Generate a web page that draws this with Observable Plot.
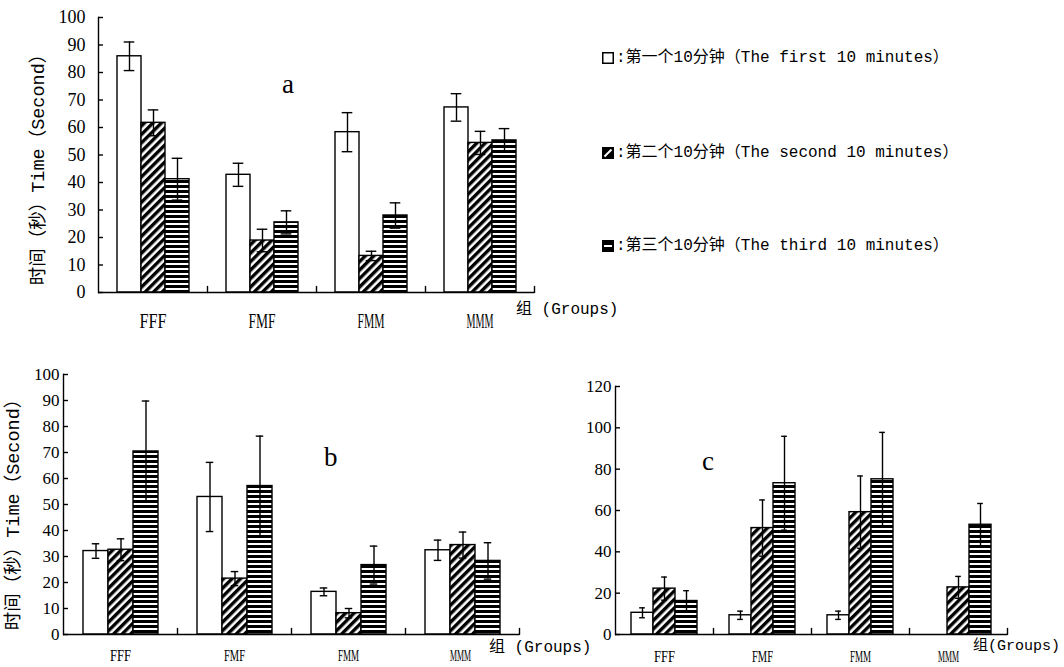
<!DOCTYPE html>
<html><head><meta charset="utf-8">
<script src="https://cdn.jsdelivr.net/npm/d3@7"></script>
<script src="https://cdn.jsdelivr.net/npm/@observablehq/plot@0.6"></script>
<style>
body{margin:0;background:#fff;}
#page{position:relative;width:1064px;height:667px;overflow:hidden;background:#fff;}
.abs{position:absolute;white-space:nowrap;color:#000;line-height:1;}
.mono{font-family:"Liberation Mono","Noto Sans CJK SC",monospace;}
.ytitle{font-size:18.5px;transform-origin:50% 50%;transform:translate(-50%,-50%) rotate(-90deg);}
.letter{font-family:"Liberation Serif",serif;font-size:27px;}
.leg{font-size:16px;display:flex;align-items:center;gap:2px;}
.panel{position:absolute;}
</style></head><body>
<div id="page">
<svg width="0" height="0" style="position:absolute">
  <defs>
    <pattern id="diag" patternUnits="userSpaceOnUse" width="6" height="6" patternTransform="rotate(45)">
      <rect width="6" height="6" fill="white"/><rect width="3.4" height="6" fill="black"/>
    </pattern>
    <pattern id="horiz" patternUnits="userSpaceOnUse" width="5" height="5">
      <rect width="5" height="5" fill="white"/><rect width="5" height="3" fill="black"/>
    </pattern>
  </defs>
</svg>
</div>
<script>
// ---- data ----
const groups = ["FFF", "FMF", "FMM", "MMM"];
const series = ["第一个10分钟", "第二个10分钟", "第三个10分钟"];
const seriesEn = ["The first 10 minutes", "The second 10 minutes", "The third 10 minutes"];
const seriesFill = ["white", "url(#diag)", "url(#horiz)"];

// panel a (rows: groups; cols: series)
const aMean = [[85.9, 61.7, 41.2], [42.8, 18.9, 25.5], [58.3, 13.3, 28.0], [67.3, 54.4, 55.3]];
const aErr  = [[5.2, 4.7, 7.6], [4.2, 4.1, 4.2], [7.1, 1.7, 4.6], [5.0, 4.2, 4.3]];
// panel b
const bMean = [[32.1, 32.6, 70.4], [52.9, 21.5, 57.1], [16.4, 8.2, 26.7], [32.4, 34.4, 28.3]];
const bErr  = [[2.8, 4.2, 19.4], [13.3, 2.7, 19.2], [1.5, 1.8, 7.3], [3.9, 5.0, 7.0]];
// panel c (MMM first 10 minutes: no bar)
const cMean = [[10.5, 22.2, 16.2], [9.3, 51.5, 73.2], [9.3, 59.2, 75.1], [null, 22.8, 53.1]];
const cErr  = [[2.4, 5.6, 5.0], [2.0, 13.6, 22.7], [2.0, 17.5, 22.7], [null, 5.3, 10.3]];

const ticksAB = [0, 10, 20, 30, 40, 50, 60, 70, 80, 90, 100];
const ticksC = [0, 20, 40, 60, 80, 100, 120];

const yTitle = "时间（秒）Time（Second）";
const groupsTitle = ["组 (Groups)", "组 (Groups)", "组(Groups)"];
const panelLetters = ["a", "b", "c"];

const page = document.getElementById("page");

function tidy(means, errs) {
  const out = [];
  groups.forEach((g, i) => series.forEach((s, j) => {
    if (means[i][j] != null) out.push({group: g, series: s, value: means[i][j], err: errs[i][j]});
  }));
  return out;
}

const tickShape = {draw(ctx, l) { ctx.moveTo(0, 0); ctx.lineTo(0, -l); }};

function panel(o) {
  const data = tidy(o.means, o.errs);
  const sw = 1.4;
  const inset = (o.barW - o.capW) / 2;
  const chart = Plot.plot({
    width: o.width, height: o.height,
    marginTop: o.mt, marginRight: o.mr, marginBottom: o.mb, marginLeft: o.ml,
    style: {fontFamily: "'Liberation Serif', serif", fontSize: "17px", color: "black", background: "transparent", overflow: "visible"},
    fx: {domain: groups, paddingInner: 0, paddingOuter: 0, label: null},
    x: {domain: series, paddingInner: 0, paddingOuter: o.pad, axis: null},
    y: {domain: [0, o.yMax]},
    color: {type: "ordinal", domain: series, range: seriesFill},
    marks: [
      Plot.barY(data, {fx: "group", x: "series", y: "value", fill: "series", stroke: "black", strokeWidth: sw}),
      Plot.ruleX(data, {fx: "group", x: "series", y1: d => d.value - d.err, y2: d => d.value + d.err, stroke: "black", strokeWidth: sw}),
      Plot.tickY(data, {fx: "group", x: "series", y: d => d.value + d.err, insetLeft: inset, insetRight: inset, stroke: "black", strokeWidth: sw}),
      Plot.tickY(data, {fx: "group", x: "series", y: d => d.value - d.err, insetLeft: inset, insetRight: inset, stroke: "black", strokeWidth: sw}),
      Plot.ruleY([0], {stroke: "black", strokeWidth: sw}),
      Plot.frame({anchor: "left", facetAnchor: "left", stroke: "black", strokeWidth: sw}),
      Plot.vector([0], {frameAnchor: "bottom-right", length: 6, rotate: 0, anchor: "start", shape: tickShape, stroke: "black", strokeWidth: sw}),
      Plot.axisY({ticks: o.ticks, tickSize: -5, tickPadding: o.tickPad, fontSize: o.yfs, label: null, strokeWidth: sw}),
      Plot.axisFx({anchor: "bottom", tickSize: 0, tickPadding: o.fxPad, fontSize: o.fxfs, label: null})
    ]
  });
  chart.classList.add("panel");
  chart.style.left = o.left + "px";
  chart.style.top = o.top + "px";
  page.appendChild(chart);
  // condensed group labels (narrow serif, like the original typeface)
  chart.querySelectorAll('g[aria-label="fx-axis tick label"] text').forEach((t, i) => {
    t.setAttribute("textLength", o.fxLen);
    t.setAttribute("lengthAdjust", "spacingAndGlyphs");
    if (o.fxShift && o.fxShift[i]) t.setAttribute("dx", o.fxShift[i]);
  });
}

panel({means: aMean, errs: aErr, ticks: ticksAB, yMax: 100, left: 0, top: 0, width: 560, height: 345,
  mt: 17, mr: 25, mb: 53, ml: 96, pad: 0.75, barW: 24.4, capW: 11, tickPad: 18, yfs: 18, fxPad: 20, fxfs: 22, fxLen: 27});
panel({means: bMean, errs: bErr, ticks: ticksAB, yMax: 100, left: 0, top: 355, width: 540, height: 312,
  mt: 19, mr: 21, mb: 33, ml: 63, pad: 0.735, barW: 25.5, capW: 8, tickPad: 9, yfs: 17, fxPad: 15, fxfs: 16, fxLen: 21,
  fxShift: [0, 0, 0, -2]});
panel({means: cMean, errs: cErr, ticks: ticksC, yMax: 120, left: 560, top: 370, width: 504, height: 297,
  mt: 16, mr: 56, mb: 33, ml: 53, pad: 0.72, barW: 22.3, capW: 6, tickPad: 9, yfs: 17, fxPad: 16, fxfs: 16, fxLen: 21,
  fxShift: [0, 0, 0, -10]});

function addText(txt, cls, left, top) {
  const d = document.createElement("div");
  d.className = "abs " + cls;
  d.textContent = txt;
  d.style.left = left + "px";
  d.style.top = top + "px";
  page.appendChild(d);
  return d;
}
// y titles (centered)
addText(yTitle, "mono ytitle", 40, 165);
addText(yTitle, "mono ytitle", 15, 510);
// panel letters
addText(panelLetters[0], "letter", 282, 71);
addText(panelLetters[1], "letter", 324, 444);
addText(panelLetters[2], "letter", 702, 448);
// group titles
addText(groupsTitle[0], "mono", 516, 302).style.fontSize = "16px";
addText(groupsTitle[1], "mono", 489, 640).style.fontSize = "16px";
addText(groupsTitle[2], "mono", 973, 639).style.fontSize = "15px";

// legend
const icons = [
  '<svg width="12" height="12"><rect x="0.75" y="0.75" width="10.5" height="10.5" fill="white" stroke="black" stroke-width="1.5"/></svg>',
  '<svg width="12" height="12"><rect width="12" height="12" fill="black"/><path d="M2.5,9.5 L9.5,2.5" stroke="white" stroke-width="2"/></svg>',
  '<svg width="12" height="12"><rect width="12" height="12" fill="black"/><rect x="2" y="5" width="8" height="2" fill="white"/></svg>'
];
const legTops = [50, 145, 238];
series.forEach((s, i) => {
  const d = document.createElement("div");
  d.className = "abs mono leg";
  d.style.left = "602px";
  d.style.top = legTops[i] + "px";
  d.innerHTML = icons[i] + "<span>:" + s + "（" + seriesEn[i] + "）</span>";
  page.appendChild(d);
});
</script>
</body></html>
